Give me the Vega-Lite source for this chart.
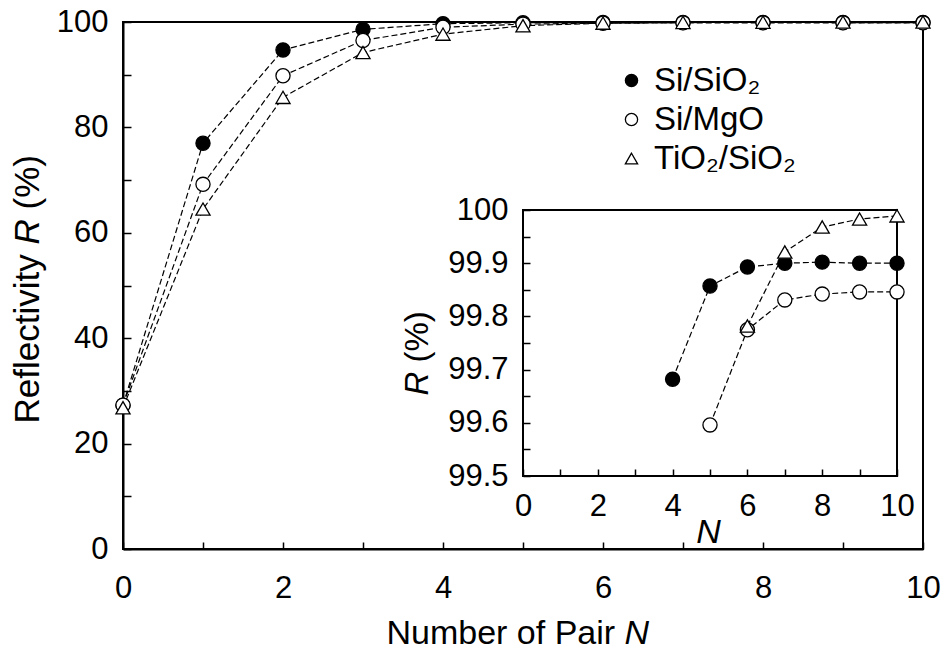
{
  "$schema": "https://vega.github.io/schema/vega-lite/v6.json",
  "width": 800,
  "height": 527,
  "autosize": "none",
  "padding": {"left": 123, "top": 22, "right": 18, "bottom": 108},
  "background": "white",
  "config": {
    "font": "Liberation Sans",
    "view": {"stroke": "black", "strokeWidth": 2},
    "axis": {
      "grid": false,
      "domainColor": "black",
      "domainWidth": 2,
      "tickColor": "black",
      "tickWidth": 1.5,
      "labelColor": "black",
      "labelFont": "Liberation Sans",
      "labelFontSize": 31,
      "labelFlush": false,
      "labelOverlap": false,
      "labelBound": false,
      "titleColor": "black",
      "titleFont": "Liberation Sans",
      "titleFontWeight": "normal"
    },
    "legend": {
      "orient": "none",
      "legendX": 492,
      "legendY": 42,
      "title": null,
      "padding": 0,
      "rowPadding": 5,
      "labelOffset": 6,
      "labelFont": "Liberation Sans",
      "labelFontSize": 33,
      "labelColor": "black",
      "symbolSize": 150,
      "symbolStrokeWidth": 1.3
    }
  },
  "datasets": {
    "reflectivity": [
      {"series": "Si/SiO₂", "N": 0, "R": 27.3},
      {"series": "Si/SiO₂", "N": 1, "R": 77.0},
      {"series": "Si/SiO₂", "N": 2, "R": 94.7},
      {"series": "Si/SiO₂", "N": 3, "R": 98.6},
      {"series": "Si/SiO₂", "N": 4, "R": 99.682},
      {"series": "Si/SiO₂", "N": 5, "R": 99.857},
      {"series": "Si/SiO₂", "N": 6, "R": 99.893},
      {"series": "Si/SiO₂", "N": 7, "R": 99.9},
      {"series": "Si/SiO₂", "N": 8, "R": 99.902},
      {"series": "Si/SiO₂", "N": 9, "R": 99.9},
      {"series": "Si/SiO₂", "N": 10, "R": 99.9},
      {"series": "Si/MgO", "N": 0, "R": 27.3},
      {"series": "Si/MgO", "N": 1, "R": 69.2},
      {"series": "Si/MgO", "N": 2, "R": 89.8},
      {"series": "Si/MgO", "N": 3, "R": 96.5},
      {"series": "Si/MgO", "N": 4, "R": 99.0},
      {"series": "Si/MgO", "N": 5, "R": 99.596},
      {"series": "Si/MgO", "N": 6, "R": 99.775},
      {"series": "Si/MgO", "N": 7, "R": 99.831},
      {"series": "Si/MgO", "N": 8, "R": 99.842},
      {"series": "Si/MgO", "N": 9, "R": 99.846},
      {"series": "Si/MgO", "N": 10, "R": 99.846},
      {"series": "TiO₂/SiO₂", "N": 0, "R": 26.8},
      {"series": "TiO₂/SiO₂", "N": 1, "R": 64.5},
      {"series": "TiO₂/SiO₂", "N": 2, "R": 85.7},
      {"series": "TiO₂/SiO₂", "N": 3, "R": 94.2},
      {"series": "TiO₂/SiO₂", "N": 4, "R": 97.7},
      {"series": "TiO₂/SiO₂", "N": 5, "R": 99.3},
      {"series": "TiO₂/SiO₂", "N": 6, "R": 99.782},
      {"series": "TiO₂/SiO₂", "N": 7, "R": 99.921},
      {"series": "TiO₂/SiO₂", "N": 8, "R": 99.968},
      {"series": "TiO₂/SiO₂", "N": 9, "R": 99.983},
      {"series": "TiO₂/SiO₂", "N": 10, "R": 99.989}
    ],
    "insetFrame": [
      {"N0": 0, "N1": 10, "R0": 99.5, "R1": 100}
    ]
  },
  "layer": [
    {
      "data": {"name": "reflectivity"},
      "mark": {"type": "line", "stroke": "black", "strokeWidth": 1.2, "strokeDash": [6, 3]},
      "encoding": {
        "x": {
          "field": "N", "type": "quantitative",
          "scale": {"domain": [0, 10], "nice": false, "zero": false},
          "axis": {
            "orient": "bottom", "domain": false, "ticks": false, "labels": false,
            "title": "N", "titleFontSize": 34, "titleFontStyle": "italic",
            "titleAlign": "left", "titleBaseline": "alphabetic",
            "titleX": 501, "titleY": 94
          }
        },
        "y": {
          "field": "R", "type": "quantitative",
          "scale": {"domain": [0, 100], "nice": false, "zero": false},
          "axis": {
            "orient": "left", "domain": false, "ticks": false, "labels": false,
            "title": "R", "titleFontSize": 35, "titleFontStyle": "italic", "titleAngle": 270,
            "titleAlign": "left", "titleBaseline": "alphabetic",
            "titleX": -85, "titleY": 222
          }
        },
        "detail": {"field": "series", "type": "nominal"}
      }
    },
    {
      "data": {"name": "reflectivity"},
      "mark": {"type": "point", "filled": true, "strokeWidth": 1.3, "size": 200, "opacity": 1},
      "encoding": {
        "x": {
          "field": "N", "type": "quantitative",
          "scale": {"domain": [0, 10], "nice": false, "zero": false},
          "axis": {
            "orient": "bottom",
            "values": [0, 1, 2, 3, 4, 5, 6, 7, 8, 9, 10],
            "labelExpr": "datum.value % 2 ? '' : datum.label",
            "tickSize": -7,
            "labelPadding": 31,
            "title": "Number of Pair",
            "titleFontSize": 34,
            "titleAlign": "left",
            "titleBaseline": "alphabetic",
            "titleX": 263,
            "titleY": 94
          }
        },
        "y": {
          "field": "R", "type": "quantitative",
          "scale": {"domain": [0, 100], "nice": false, "zero": false},
          "axis": {
            "orient": "left",
            "values": [0, 10, 20, 30, 40, 50, 60, 70, 80, 90, 100],
            "labelExpr": "datum.value % 20 ? '' : datum.label",
            "tickSize": -8,
            "labelPadding": 23,
            "title": "Reflectivity",
            "titleFontSize": 35,
            "titleAngle": 270,
            "titleAlign": "left",
            "titleBaseline": "alphabetic",
            "titleX": -85,
            "titleY": 401
          }
        },
        "shape": {
          "field": "series", "type": "nominal",
          "scale": {"domain": ["Si/SiO₂", "Si/MgO", "TiO₂/SiO₂"], "range": ["circle", "circle", "triangle-up"]}
        },
        "fill": {
          "field": "series", "type": "nominal",
          "scale": {"domain": ["Si/SiO₂", "Si/MgO", "TiO₂/SiO₂"], "range": ["black", "white", "white"]}
        },
        "stroke": {
          "field": "series", "type": "nominal",
          "scale": {"domain": ["Si/SiO₂", "Si/MgO", "TiO₂/SiO₂"], "range": ["black", "black", "black"]}
        }
      }
    },
    {
      "data": {"name": "insetFrame"},
      "mark": {"type": "rect", "fill": "white", "fillOpacity": 0, "stroke": "black", "strokeWidth": 2},
      "encoding": {
        "x": {
          "field": "N0", "type": "quantitative",
          "scale": {"domain": [-10.695, 10.695], "nice": false, "zero": false},
          "axis": {
            "orient": "bottom",
            "offset": -73,
            "domain": false,
            "values": [0, 1, 2, 3, 4, 5, 6, 7, 8, 9, 10],
            "labelExpr": "datum.value % 2 ? '' : datum.label",
            "tickSize": -7,
            "labelPadding": 22,
            "title": "N",
            "titleFontSize": 34,
            "titleFontStyle": "italic",
            "titleAlign": "center",
            "titleBaseline": "alphabetic",
            "titleX": 585,
            "titleY": 66
          }
        },
        "x2": {"field": "N1"},
        "y": {
          "field": "R0", "type": "quantitative",
          "scale": {"domain": [99.3628, 100.3534], "nice": false, "zero": false},
          "axis": {
            "orient": "left",
            "offset": -400,
            "domain": false,
            "values": [99.5, 99.55, 99.6, 99.65, 99.7, 99.75, 99.8, 99.85, 99.9, 99.95, 100],
            "labelExpr": "round(datum.value * 100) % 10 != 0 ? '' : (datum.value >= 99.999 ? '100' : format(datum.value, '.1f'))",
            "tickSize": -7,
            "labelPadding": 22,
            "title": "(%)",
            "titleFontSize": 33,
            "titleAngle": 270,
            "titleAlign": "left",
            "titleBaseline": "alphabetic",
            "titleX": -96,
            "titleY": 340
          }
        },
        "y2": {"field": "R1"}
      }
    },
    {
      "data": {"name": "reflectivity"},
      "transform": [{"filter": "datum.R >= 99.5"}],
      "mark": {"type": "line", "stroke": "black", "strokeWidth": 1.2, "strokeDash": [6, 3]},
      "encoding": {
        "x": {
          "field": "N", "type": "quantitative",
          "scale": {"domain": [-10.695, 10.695], "nice": false, "zero": false},
          "axis": null
        },
        "y": {
          "field": "R", "type": "quantitative",
          "scale": {"domain": [99.3628, 100.3534], "nice": false, "zero": false},
          "axis": {
            "orient": "left", "offset": -400, "domain": false, "ticks": false, "labels": false,
            "title": "R", "titleFontSize": 33, "titleFontStyle": "italic", "titleAngle": 270,
            "titleAlign": "left", "titleBaseline": "alphabetic",
            "titleX": -96, "titleY": 373
          }
        },
        "detail": {"field": "series", "type": "nominal"}
      }
    },
    {
      "data": {"name": "reflectivity"},
      "transform": [{"filter": "datum.R >= 99.5"}],
      "mark": {"type": "point", "filled": true, "strokeWidth": 1.3, "size": 200, "opacity": 1},
      "encoding": {
        "x": {
          "field": "N", "type": "quantitative",
          "scale": {"domain": [-10.695, 10.695], "nice": false, "zero": false},
          "axis": null
        },
        "y": {
          "field": "R", "type": "quantitative",
          "scale": {"domain": [99.3628, 100.3534], "nice": false, "zero": false},
          "axis": {
            "orient": "left", "domain": false, "ticks": false, "labels": false,
            "title": "(%)", "titleFontSize": 35, "titleAngle": 270,
            "titleAlign": "left", "titleBaseline": "alphabetic",
            "titleX": -85, "titleY": 187
          }
        },
        "shape": {
          "field": "series", "type": "nominal",
          "scale": {"domain": ["Si/SiO₂", "Si/MgO", "TiO₂/SiO₂"], "range": ["circle", "circle", "triangle-up"]}
        },
        "fill": {
          "field": "series", "type": "nominal",
          "scale": {"domain": ["Si/SiO₂", "Si/MgO", "TiO₂/SiO₂"], "range": ["black", "white", "white"]}
        },
        "stroke": {
          "field": "series", "type": "nominal",
          "scale": {"domain": ["Si/SiO₂", "Si/MgO", "TiO₂/SiO₂"], "range": ["black", "black", "black"]}
        }
      }
    }
  ],
  "resolve": {
    "scale": {"x": "independent", "y": "independent"},
    "axis": {"x": "independent", "y": "independent"}
  }
}
